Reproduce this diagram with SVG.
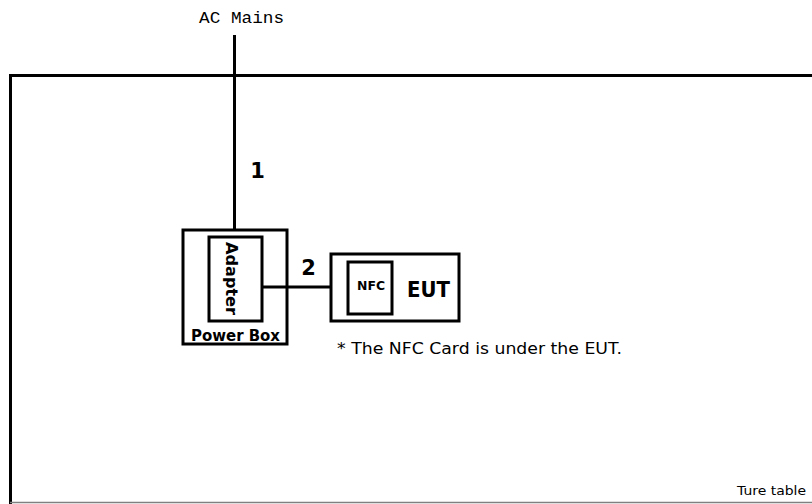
<svg xmlns="http://www.w3.org/2000/svg" width="812" height="504" viewBox="0 0 812 504">
<style>
.box{fill:none;stroke:#000;stroke-width:3}
.line{fill:none;stroke:#000;stroke-width:3}
.t{font-family:"DejaVu Sans","Liberation Sans",sans-serif;fill:#000}
.mono{font-family:"Liberation Mono","DejaVu Sans Mono",monospace;fill:#000}
</style>
<rect width="812" height="504" fill="#fff"/>
<g id="table">
<path d="M10.5 504 V75.5 H812" class="line"/>
<line x1="10" y1="502.5" x2="812" y2="502.5" stroke="#808080" stroke-width="1.5"/>
<text class="t" x="806" y="495" font-size="13" text-anchor="end" textLength="69" lengthAdjust="spacingAndGlyphs">Ture table</text>
</g>
<g id="ac-mains">
<text class="mono" x="199" y="23" font-size="16" textLength="85" lengthAdjust="spacingAndGlyphs">AC Mains</text>
</g>
<g id="connectors">
<line x1="234.5" y1="35" x2="234.5" y2="230" class="line"/>
<line x1="262" y1="287" x2="331" y2="287" class="line"/>
<text class="t" x="257.5" y="178" font-size="21" font-weight="bold" text-anchor="middle">1</text>
<text class="t" x="308.5" y="275" font-size="21" font-weight="bold" text-anchor="middle">2</text>
</g>
<g id="power-box">
<rect x="183" y="230" width="104" height="114" class="box"/>
<text class="t" x="191" y="341" font-size="15" font-weight="bold" textLength="89" lengthAdjust="spacingAndGlyphs">Power Box</text>
</g>
<g id="adapter">
<rect x="209" y="237" width="53" height="84" class="box"/>
<text class="t" x="0" y="0" font-size="16" font-weight="bold" textLength="73" lengthAdjust="spacingAndGlyphs" transform="translate(226 242) rotate(90)">Adapter</text>
</g>
<g id="eut">
<rect x="331" y="254" width="128" height="67" class="box"/>
<text class="t" x="407" y="297" font-size="22" font-weight="bold" textLength="43" lengthAdjust="spacingAndGlyphs">EUT</text>
</g>
<g id="nfc">
<rect x="348" y="262" width="44" height="52" class="box"/>
<text class="t" x="357" y="290" font-size="12" font-weight="bold" textLength="28" lengthAdjust="spacingAndGlyphs">NFC</text>
</g>
<g id="note">
<text class="t" x="337" y="354" font-size="15" textLength="285" lengthAdjust="spacingAndGlyphs">* The NFC Card is under the EUT.</text>
</g>
</svg>
